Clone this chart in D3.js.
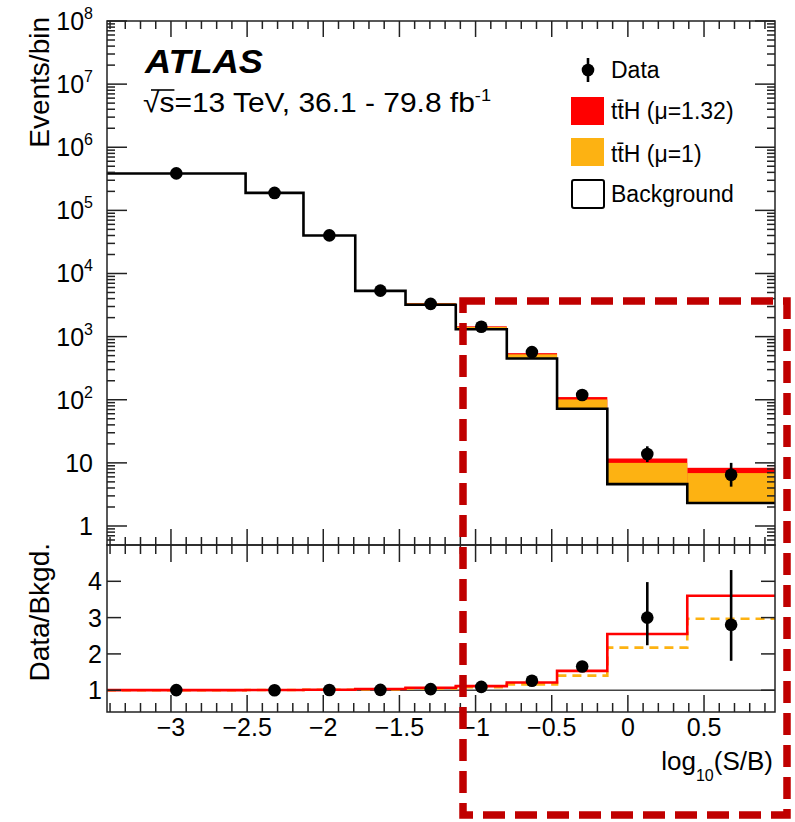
<!DOCTYPE html>
<html><head><meta charset="utf-8">
<script src="https://cdn.jsdelivr.net/npm/d3@7"></script>
<style>
body{margin:0;background:#fff}
svg{display:block}
text{font-family:"Liberation Sans",Arial,Helvetica,sans-serif;fill:#000}
</style>
</head><body>
<svg id="c" width="795" height="822"></svg>
<script>
// ---------------- data ----------------
const binEdges   = [-3.42, -2.51, -2.13, -1.79, -1.46, -1.13, -0.795, -0.465, -0.135, 0.39, 0.966];
const background = [3.84e5, 1.89e5, 4.0e4, 5.3e3, 3.2e3, 1310, 451, 72, 4.6, 2.32];
const signalMu1  = [420, 900, 440, 127, 160, 111, 73, 29, 5.4, 4.57];
const muFit      = 1.32;
const dataValues = [3.85e5, 1.89e5, 4.02e4, 5.35e3, 3.3e3, 1430, 569, 119, 13.8, 6.5];
const dataErrLo  = [620, 435, 200, 73, 57, 38, 24, 11, 3.5, 2.3];
const dataErrHi  = [620, 435, 200, 73, 57, 38, 24, 11, 4.5, 3.5];
const xTickValues     = [-3, -2.5, -2, -1.5, -1, -0.5, 0, 0.5];
const yTopTickValues  = [1, 10, 1e2, 1e3, 1e4, 1e5, 1e6, 1e7, 1e8];
const ratioTickValues = [1, 2, 3, 4];
const legendLabels = ["Data", "tt\u0304H (\u03bc=1.32)", "tt\u0304H (\u03bc=1)", "Background"];

// ---------------- layout ----------------
const svg = d3.select("#c");
const X0 = 107, X1 = 775, Y0 = 21, YS = 545, Y1 = 712;
const RED = "#ff0000", ORANGE = "#fdb212", BOX = "#c00000";

const x  = d3.scaleLinear().domain([binEdges[0], binEdges[binEdges.length - 1]]).range([X0, X1]);
const yT = d3.scaleLog().domain([0.5, 1e8]).range([YS, Y0]);
const yR = d3.scaleLinear().domain([0.4, 5]).range([Y1, YS]);

const bins = background.map((b, i) => ({
  x0: binEdges[i], x1: binEdges[i + 1], xc: (binEdges[i] + binEdges[i + 1]) / 2,
  b, s: signalMu1[i], d: dataValues[i], lo: dataErrLo[i], hi: dataErrHi[i]
}));

const defs = svg.append("defs");
defs.append("clipPath").attr("id", "clipTop").append("rect")
  .attr("x", X0).attr("y", Y0).attr("width", X1 - X0).attr("height", YS - Y0);
defs.append("clipPath").attr("id", "clipR").append("rect")
  .attr("x", X0).attr("y", YS).attr("width", X1 - X0).attr("height", Y1 - YS);

// ---------------- top panel ----------------
const gTop = svg.append("g").attr("clip-path", "url(#clipTop)");
gTop.selectAll("rect.red").data(bins).join("rect").attr("class", "red")
  .attr("x", d => x(d.x0)).attr("width", d => x(d.x1) - x(d.x0))
  .attr("y", d => yT(d.b + muFit * d.s)).attr("height", d => yT(d.b) - yT(d.b + muFit * d.s))
  .attr("fill", RED);
gTop.selectAll("rect.orange").data(bins).join("rect").attr("class", "orange")
  .attr("x", d => x(d.x0)).attr("width", d => x(d.x1) - x(d.x0))
  .attr("y", d => yT(d.b + d.s)).attr("height", d => yT(d.b) - yT(d.b + d.s))
  .attr("fill", ORANGE);

const stepPts = acc => bins.flatMap(d => [[d.x0, acc(d)], [d.x1, acc(d)]]);
gTop.append("path")
  .attr("d", d3.line().x(p => x(p[0])).y(p => yT(p[1]))(stepPts(d => d.b)))
  .attr("fill", "none").attr("stroke", "#000").attr("stroke-width", 2.6);

gTop.selectAll("line.err").data(bins).join("line").attr("class", "err")
  .attr("x1", d => x(d.xc)).attr("x2", d => x(d.xc))
  .attr("y1", d => yT(d.d - d.lo)).attr("y2", d => yT(d.d + d.hi))
  .attr("stroke", "#000").attr("stroke-width", 2.6);
gTop.selectAll("circle").data(bins).join("circle")
  .attr("cx", d => x(d.xc)).attr("cy", d => yT(d.d)).attr("r", 6.3).attr("fill", "#000");

// ---------------- ratio panel ----------------
const gR = svg.append("g").attr("clip-path", "url(#clipR)");
gR.append("line").attr("x1", X0).attr("x2", X1).attr("y1", yR(1)).attr("y2", yR(1))
  .attr("stroke", "#444").attr("stroke-width", 1.5);
const lineR = d3.line().x(p => x(p[0])).y(p => yR(p[1]));
gR.append("path").attr("d", lineR(stepPts(d => (d.b + d.s) / d.b)))
  .attr("fill", "none").attr("stroke", ORANGE).attr("stroke-width", 2.6).attr("stroke-dasharray", "9,6");
gR.append("path").attr("d", lineR(stepPts(d => (d.b + muFit * d.s) / d.b)))
  .attr("fill", "none").attr("stroke", RED).attr("stroke-width", 2.6);
gR.selectAll("line.err").data(bins).join("line").attr("class", "err")
  .attr("x1", d => x(d.xc)).attr("x2", d => x(d.xc))
  .attr("y1", d => yR((d.d - d.lo) / d.b)).attr("y2", d => yR((d.d + d.hi) / d.b))
  .attr("stroke", "#000").attr("stroke-width", 2.6);
gR.selectAll("circle").data(bins).join("circle")
  .attr("cx", d => x(d.xc)).attr("cy", d => yR(d.d / d.b)).attr("r", 6.3).attr("fill", "#000");

// ---------------- frames and ticks ----------------
const axG = svg.append("g").attr("stroke", "#222").attr("stroke-width", 1.5);
function tick(x1, y1, x2, y2) { axG.append("line").attr("x1", x1).attr("y1", y1).attr("x2", x2).attr("y2", y2); }

const xMinor = d3.range(-34, 10).map(i => i / 10).filter(v => Math.abs(v * 2 - Math.round(v * 2)) > 1e-6);
xTickValues.forEach(v => { tick(x(v), YS, x(v), YS - 16); tick(x(v), Y0, x(v), Y0 + 16); });
xMinor.forEach(v => { tick(x(v), YS, x(v), YS - 8); tick(x(v), Y0, x(v), Y0 + 8); });
xTickValues.forEach(v => { tick(x(v), Y1, x(v), Y1 - 17); tick(x(v), YS, x(v), YS + 17); });
xMinor.forEach(v => { tick(x(v), Y1, x(v), Y1 - 9); tick(x(v), YS, x(v), YS + 9); });
yTopTickValues.forEach(v => { tick(X0, yT(v), X0 + 20, yT(v)); tick(X1, yT(v), X1 - 20, yT(v)); });
const logMinor = [];
for (let e = -1; e < 8; e++) for (let k = 2; k <= 9; k++) { const v = k * Math.pow(10, e); if (v > 0.5 && v < 1e8) logMinor.push(v); }
logMinor.forEach(v => { tick(X0, yT(v), X0 + 8, yT(v)); tick(X1, yT(v), X1 - 8, yT(v)); });
ratioTickValues.forEach(v => { tick(X0, yR(v), X0 + 14, yR(v)); tick(X1, yR(v), X1 - 14, yR(v)); });

axG.append("rect").attr("x", X0).attr("y", Y0).attr("width", X1 - X0).attr("height", YS - Y0).attr("fill", "none");
axG.append("rect").attr("x", X0).attr("y", YS).attr("width", X1 - X0).attr("height", Y1 - YS).attr("fill", "none");

// ---------------- tick labels ----------------
const lab = svg.append("g").style("font-size", "25px");
yTopTickValues.forEach(v => {
  const e = Math.round(Math.log10(v));
  const t = lab.append("text").attr("x", 93).attr("y", yT(v) + 9).attr("text-anchor", "end");
  if (e === 0) t.text("1");
  else if (e === 1) t.text("10");
  else { t.append("tspan").text("10"); t.append("tspan").attr("dy", -11).style("font-size", "16px").text(e); }
});
ratioTickValues.forEach(v => {
  lab.append("text").attr("x", 102).attr("y", yR(v) + 9).attr("text-anchor", "end").text(v);
});
xTickValues.forEach(v => {
  const s = v < 0 ? "\u2212" + Math.abs(v) : String(v);
  lab.append("text").attr("x", x(v)).attr("y", 736).attr("text-anchor", "middle").text(s);
});

// ---------------- axis titles ----------------
const xt = svg.append("text").attr("x", 773).attr("y", 770).attr("text-anchor", "end").style("font-size", "26px");
xt.append("tspan").text("log");
xt.append("tspan").attr("dy", 11).style("font-size", "16px").text("10");
xt.append("tspan").attr("dy", -11).text("(S/B)");

svg.append("text").attr("transform", "translate(49,17) rotate(-90)").attr("text-anchor", "end")
  .style("font-size", "28px").text("Events/bin");
svg.append("text").attr("transform", "translate(49,543) rotate(-90)").attr("text-anchor", "end")
  .style("font-size", "28px").text("Data/Bkgd.");

// ---------------- ATLAS label ----------------
svg.append("text").attr("x", 145).attr("y", 73).style("font-size", "33px")
  .style("font-weight", "bold").style("font-style", "italic")
  .attr("textLength", 118).attr("lengthAdjust", "spacingAndGlyphs").text("ATLAS");
const lumi = svg.append("text").attr("x", 143).attr("y", 112).style("font-size", "28px")
  .attr("textLength", 348).attr("lengthAdjust", "spacingAndGlyphs");
lumi.append("tspan").text("\u221as=13 TeV, 36.1 - 79.8 fb");
lumi.append("tspan").attr("dy", -11).style("font-size", "17px").text("-1");
{
  const n = lumi.node();
  const s1 = n.getEndPositionOfChar(1);
  const r0 = n.getStartPositionOfChar(0);
  svg.append("line").attr("x1", r0.x + 8).attr("x2", s1.x).attr("y1", 112 - 22).attr("y2", 112 - 22)
    .attr("stroke", "#000").attr("stroke-width", 1.6);
}

// ---------------- legend ----------------
const lg = svg.append("g");
lg.append("line").attr("x1", 588).attr("x2", 588).attr("y1", 58).attr("y2", 82).attr("stroke", "#000").attr("stroke-width", 2.6);
lg.append("circle").attr("cx", 588).attr("cy", 70).attr("r", 6.3).attr("fill", "#000");
lg.append("rect").attr("x", 571).attr("y", 97).attr("width", 33).attr("height", 28).attr("fill", RED);
lg.append("rect").attr("x", 571).attr("y", 138).attr("width", 33).attr("height", 28).attr("fill", ORANGE);
lg.append("rect").attr("x", 572).attr("y", 180).attr("width", 32).attr("height", 28).attr("rx", 2)
  .attr("fill", "#fff").attr("stroke", "#000").attr("stroke-width", 2);
const legY = [78, 119, 162, 202];
legendLabels.forEach((t, i) => {
  lg.append("text").attr("x", 611).attr("y", legY[i]).style("font-size", "23px").text(t);
});

// ---------------- highlight box ----------------
svg.append("rect").attr("x", 463).attr("y", 301).attr("width", 324).attr("height", 514)
  .attr("fill", "none").attr("stroke", BOX).attr("stroke-width", 7.5).attr("stroke-dasharray", "22,10");
</script>
</body></html>
